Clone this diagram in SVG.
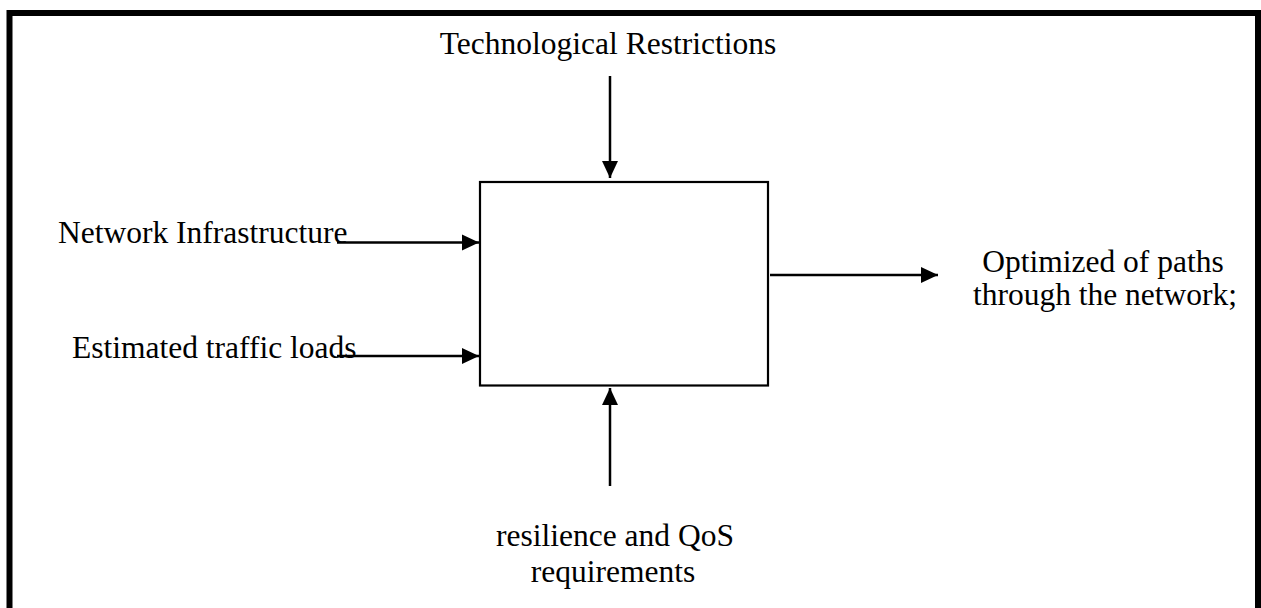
<svg xmlns="http://www.w3.org/2000/svg" width="1261" height="608" viewBox="0 0 1261 608">
<style>
text{font-family:"Liberation Serif","Times New Roman",serif;font-size:31.5px;fill:#000}
.c{stroke:#000;stroke-width:2.5;fill:none;marker-end:url(#ah)}
</style>
<defs>
<marker id="ah" markerUnits="userSpaceOnUse" markerWidth="18" markerHeight="18" viewBox="0 0 18 18" refX="17" refY="9" orient="auto">
<path d="M0,1 L17,9 L0,17 Z" fill="#000"/>
</marker>
</defs>
<rect x="0" y="0" width="1261" height="608" fill="#fff"/>
<rect id="frame" x="9.5" y="13" width="1248.5" height="620" fill="none" stroke="#000" stroke-width="6"/>
<g id="process">
<rect x="480" y="182" width="288" height="203.5" fill="#fff" stroke="#000" stroke-width="2.2"/>
</g>
<g id="control"><text x="608" y="54" text-anchor="middle">Technological Restrictions</text></g>
<g id="input1"><text x="58" y="243">Network Infrastructure</text></g>
<g id="input2"><text x="72" y="358">Estimated traffic loads</text></g>
<g id="output"><text x="1103" y="272" text-anchor="middle">Optimized of paths</text><text x="1105" y="305" text-anchor="middle">through the network;</text></g>
<g id="mechanism"><text x="615" y="546" text-anchor="middle">resilience and QoS</text><text x="613" y="582" text-anchor="middle">requirements</text></g>
<g id="connectors">
<line class="c" x1="610" y1="76" x2="610" y2="178"/>
<line class="c" x1="337" y1="242.5" x2="479" y2="242.5"/>
<line class="c" x1="337" y1="356" x2="479" y2="356"/>
<line class="c" x1="770" y1="275" x2="938" y2="275"/>
<line class="c" x1="610" y1="486" x2="610" y2="388"/>
</g>
</svg>
